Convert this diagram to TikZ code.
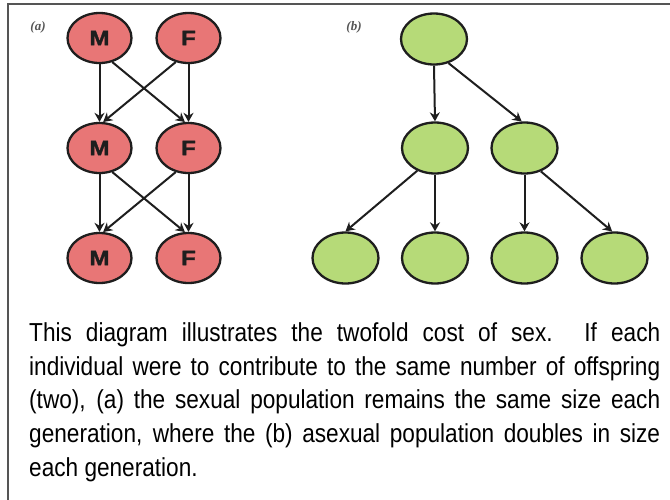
\documentclass[tikz,border=0pt]{standalone}
\usepackage{fontspec}
\setmainfont{Liberation Sans}
\newfontfamily\narrowfont[FakeStretch=0.87]{Liberation Sans}
\newfontfamily\heavyfont[FakeStretch=1.15,FakeBold=1.5]{Liberation Sans}
\newfontfamily\lblfont{Liberation Serif}
\usetikzlibrary{shapes.geometric,arrows.meta}
\definecolor{redfill}{RGB}{232,118,118}
\definecolor{greenfill}{RGB}{182,218,120}
\definecolor{edgec}{RGB}{30,30,30}
\definecolor{framec}{RGB}{85,85,85}
\begin{document}
\begin{tikzpicture}[x=1pt,y=-1pt,
  sexnode/.style={ellipse,draw=edgec,line width=2.3pt,fill=redfill,minimum width=64pt,minimum height=50pt,inner sep=0pt,text=edgec,font=\heavyfont\bfseries\fontsize{21}{21}\selectfont},
  asexnode/.style={ellipse,draw=edgec,line width=2.3pt,fill=greenfill,minimum width=66pt,minimum height=51pt,inner sep=0pt},
  arr/.style={draw=edgec,line width=2pt,-{Stealth[length=9pt,width=10pt]}},
  panellbl/.style={font=\lblfont\fontsize{13}{13}\selectfont\bfseries\itshape,text=framec,inner sep=0pt},
  captxt/.style={font=\narrowfont\fontsize{26}{26}\selectfont,anchor=base west,inner sep=0pt}]
\useasboundingbox (0,0) rectangle (670,499);
\draw[framec,line width=2pt] (8,520) -- (8,3.5) -- (690,3.5);
% panel (a)
\node[panellbl] (la) at (38,27) {(a)};
\node[sexnode] (m1) at (99.5,38) {M};
\node[sexnode] (f1) at (188.5,38) {F};
\node[sexnode] (m2) at (99.5,148) {M};
\node[sexnode] (f2) at (188.5,148) {F};
\node[sexnode] (m3) at (99.5,258) {M};
\node[sexnode] (f3) at (188.5,258) {F};
\draw[arr] (m1.south) -- (m2.north);
\draw[arr] (f1.south) -- (f2.north);
\draw[arr] (m1.-62) -- (f2.98);
\draw[arr] (f1.-118) -- (m2.82);
\draw[arr] (m2.south) -- (m3.north);
\draw[arr] (f2.south) -- (f3.north);
\draw[arr] (m2.-62) -- (f3.98);
\draw[arr] (f2.-118) -- (m3.82);
% panel (b)
\node[panellbl] (lb) at (354,27) {(b)};
\node[asexnode] (r) at (434,39) {};
\node[asexnode] (c1) at (435,148) {};
\node[asexnode] (c2) at (524.5,148) {};
\node[asexnode] (g1) at (345.5,258) {};
\node[asexnode] (g2) at (435,258) {};
\node[asexnode] (g3) at (524.5,258) {};
\node[asexnode] (g4) at (614.5,258) {};
\draw[arr] (r.south) -- (c1.north);
\draw[arr] (r.-59) -- (c2.96);
\draw[arr] (c1.-128) -- (g1.north);
\draw[arr] (c1.south) -- (g2.north);
\draw[arr] (c2.south) -- (g3.north);
\draw[arr] (c2.-55) -- (g4.95);
% caption
\node[captxt] (t1) at (29,341.5) {\makebox[631pt][s]{This diagram illustrates the twofold cost of sex. If each}};
\node[captxt] (t2) at (29,375.2) {\makebox[631pt][s]{individual were to contribute to the same number of offspring}};
\node[captxt] (t3) at (29,408.9) {\makebox[631pt][s]{(two), (a) the sexual population remains the same size each}};
\node[captxt] (t4) at (29,442.6) {\makebox[631pt][s]{generation, where the (b) asexual population doubles in size}};
\node[captxt] (t5) at (29,476.3) {each generation.};
\end{tikzpicture}
\end{document}
